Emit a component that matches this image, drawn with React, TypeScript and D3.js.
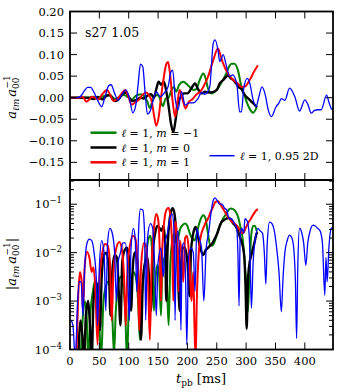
import React from "react";
import * as d3 from "d3";

// ---------- data: top panel a_lm / a_00 (t [ms], value) ----------
const greenTop: [number, number][] = [[0,0],[30,0],[40,0.002],[48,-0.002],[56,0.003],[64,0.006],[70,0.004],[77,-0.003],[84,0.002],[92,0.006],[98,0.002],[105,-0.004],[112,0.004],[120,0.008],[126,0.004],[132,-0.01],[136,-0.024],[140,-0.01],[145,0.005],[150,0.006],[155,-0.01],[158,-0.02],[163,-0.002],[168,0.0],[172,0.015],[177,0.025],[181,0.014],[186,0.03],[193,0.037],[200,0.03],[206,0.022],[210,0.018],[215,0.02],[221,0.041],[227,0.056],[231,0.045],[235,0.022],[241,0.01],[246,0.013],[250,0.018],[258,0.035],[266,0.056],[271,0.072],[275,0.079],[280,0.079],[286,0.064],[292,0.025],[298,0.002],[303,-0.017],[309,-0.032],[312,-0.035],[316,-0.028],[318,-0.022]];
const blackTop: [number, number][] = [[0,0],[30,0],[40,-0.003],[48,0.002],[55,-0.004],[62,0.004],[68,0.006],[73,-0.004],[78,-0.008],[85,0.0],[90,0.01],[95,0.012],[101,0.0],[106,-0.008],[113,-0.005],[120,0.0],[126,-0.002],[133,0.006],[138,0.008],[143,0.0],[147,0.02],[151,0.037],[155,0.03],[160,0.037],[164,0.015],[168,-0.02],[172,-0.06],[176,-0.08],[180,-0.05],[184,-0.01],[188,0.0],[194,0.01],[200,0.01],[206,0.02],[213,0.033],[218,0.02],[225,0.01],[230,0.014],[236,0.012],[243,0.013],[250,0.018],[255,0.033],[261,0.041],[265,0.047],[269,0.052],[274,0.045],[278,0.041],[283,0.033],[287,0.025],[292,0.02],[298,0.006],[303,-0.001],[309,-0.009],[315,-0.017],[319,-0.022]];
const redTop: [number, number][] = [[0,0],[15,0],[20,0.003],[24,-0.002],[28,-0.009],[33,-0.004],[37,0.002],[42,0.0],[48,-0.004],[55,0.008],[63,0.018],[68,0.008],[74,-0.007],[80,-0.004],[87,0.008],[94,0.018],[99,0.004],[105,-0.016],[112,-0.01],[118,-0.004],[122,0.004],[130,0.012],[135,0.004],[139,-0.007],[143,-0.04],[147,-0.065],[151,-0.045],[155,0.0],[159,0.04],[164,0.078],[167,0.083],[170,0.06],[175,-0.01],[179,-0.044],[183,-0.01],[187,0.018],[192,-0.005],[197,-0.025],[202,-0.01],[208,-0.004],[215,0.007],[222,0.014],[227,0.025],[235,0.048],[244,0.087],[252,0.114],[256,0.1],[261,0.079],[269,0.056],[278,0.041],[286,0.033],[292,0.025],[298,0.026],[306,0.041],[315,0.064],[320,0.075]];
const blueTop: [number, number][] = [[0,0],[12,0],[18,0.003],[24,0.015],[30,0.024],[35,0.024],[41,0.012],[47,-0.006],[54,-0.021],[60,0.004],[66,0.028],[70,0.03],[76,0.01],[82,-0.006],[88,0.006],[95,0.018],[101,0.0],[107,-0.035],[112,-0.018],[116,0.03],[120,0.078],[124,0.072],[128,0.01],[132,-0.038],[137,-0.03],[141,-0.009],[147,0.014],[154,0.002],[161,0.012],[167,0.025],[172,0.06],[175,0.064],[179,0.0],[184,-0.028],[190,0.014],[196,-0.017],[203,-0.012],[210,-0.012],[218,-0.002],[224,0.012],[230,0.008],[238,0.025],[244,0.126],[247,0.134],[252,0.111],[255,0.084],[261,0.1],[266,0.076],[272,0.049],[277,0.053],[284,0.033],[289,-0.033],[292,-0.033],[296,0.022],[302,0.045],[306,0.035],[312,-0.005],[317,-0.021],[321,-0.002],[327,0.025],[332,0.01],[338,-0.03],[343,-0.044],[351,-0.021],[356,-0.012],[360,-0.002],[366,-0.006],[374,0.022],[383,0.002],[391,-0.031],[400,-0.005],[405,-0.015],[411,-0.036],[416,-0.03],[422,-0.028],[428,-0.028],[437,0.006],[441,-0.01],[446,-0.027],[448,-0.028]];

// ---------- data: bottom panel log10 |a_lm / a_00| (t [ms], exponent) ----------
const greenAbsExp: [number, number][] = [[18,-4.2],[22,-3.3],[25,-3.0],[28,-3.2],[31,-4.2],[35,-3.2],[39,-2.8],[42,-2.6],[46,-2.8],[50,-3.5],[53,-4.2],[57,-3.0],[61,-2.7],[65,-2.6],[69,-2.8],[72,-3.3],[75,-4.1],[78,-3.2],[82,-2.7],[86,-2.5],[90,-2.65],[94,-3.2],[97,-4.2],[100,-3.2],[104,-2.6],[108,-2.4],[112,-2.5],[116,-3.0],[119,-3.8],[122,-3.0],[126,-2.4],[130,-2.0],[134,-1.7],[137,-1.65],[140,-2.0],[143,-3.2],[146,-2.5],[149,-2.25],[152,-2.5],[155,-3.3],[157,-2.4],[161,-2.1],[165,-2.6],[168,-3.5],[171,-2.2],[175,-1.7],[178,-1.6],[181,-1.8],[184,-1.7],[188,-1.5],[192,-1.43],[196,-1.4],[200,-1.45],[204,-1.6],[208,-1.7],[212,-1.75],[216,-1.6],[220,-1.4],[224,-1.27],[227,-1.23],[231,-1.3],[235,-1.6],[239,-1.85],[243,-1.85],[247,-1.75],[252,-1.55],[257,-1.4],[262,-1.27],[266,-1.2],[270,-1.12],[274,-1.09],[278,-1.1],[282,-1.15],[286,-1.25],[290,-1.45],[294,-1.7],[297,-2.1],[300,-2.6],[303,-3.22],[306,-2.3],[309,-1.6],[312,-1.45],[315,-1.45],[318,-1.55]];
const blackAbsExp: [number, number][] = [[14,-4.2],[18,-3.4],[21,-3.7],[24,-4.2],[27,-3.3],[31,-3.0],[34,-3.5],[37,-4.2],[40,-3.0],[44,-2.6],[48,-2.8],[51,-3.6],[54,-2.5],[58,-2.05],[62,-2.0],[66,-2.3],[69,-3.3],[72,-2.4],[76,-2.05],[80,-2.1],[83,-2.8],[86,-3.5],[89,-2.2],[93,-1.95],[97,-1.9],[101,-2.2],[104,-3.2],[107,-2.3],[110,-2.0],[114,-2.1],[118,-2.9],[121,-3.8],[124,-2.6],[128,-2.2],[132,-2.1],[135,-2.6],[138,-3.2],[141,-2.0],[145,-1.6],[149,-1.45],[153,-1.5],[156,-1.55],[159,-1.45],[162,-1.8],[164,-3.0],[166,-2.0],[169,-1.4],[172,-1.15],[175,-1.08],[178,-1.2],[181,-1.6],[184,-2.5],[187,-3.2],[189,-2.3],[192,-1.9],[196,-1.9],[200,-2.2],[204,-2.9],[206,-2.0],[210,-1.6],[214,-1.47],[217,-1.6],[220,-1.8],[223,-1.95],[227,-2.05],[231,-1.95],[235,-1.9],[239,-1.85],[243,-1.8],[247,-1.7],[251,-1.6],[255,-1.45],[258,-1.37],[262,-1.33],[266,-1.3],[270,-1.28],[274,-1.32],[278,-1.4],[282,-1.45],[286,-1.55],[290,-1.7],[294,-1.85],[297,-2.1],[299,-2.7],[301,-3.57],[303,-2.6],[306,-2.2],[309,-2.05],[312,-1.9],[315,-1.75],[318,-1.6],[320,-1.58]];
const redAbsExp: [number, number][] = [[11,-4.1],[14,-2.9],[17,-2.4],[20,-2.6],[22,-3.2],[25,-2.3],[29,-1.98],[33,-2.1],[37,-2.4],[40,-2.3],[43,-2.7],[47,-3.9],[50,-2.6],[55,-2.0],[60,-1.82],[64,-1.85],[68,-2.2],[71,-3.4],[74,-2.4],[79,-1.9],[84,-1.78],[88,-1.9],[92,-2.5],[95,-3.5],[98,-2.3],[103,-1.8],[107,-1.65],[111,-1.7],[115,-2.2],[118,-3.6],[121,-2.3],[126,-1.8],[130,-1.9],[133,-2.6],[136,-3.8],[139,-2.3],[143,-1.5],[147,-1.2],[150,-1.3],[153,-2.0],[155,-3.0],[157,-2.0],[161,-1.3],[165,-1.1],[168,-1.08],[171,-1.25],[174,-1.9],[176,-3.0],[178,-1.6],[180,-1.36],[183,-1.9],[185,-2.8],[187,-1.75],[190,-2.0],[193,-2.6],[196,-1.7],[199,-1.65],[202,-1.9],[205,-2.6],[207,-3.0],[210,-2.4],[212,-3.5],[214,-4.2],[216,-3.0],[220,-1.9],[224,-1.6],[227,-1.5],[231,-1.38],[235,-1.3],[240,-1.15],[244,-1.05],[248,-0.95],[252,-0.94],[256,-1.0],[261,-1.1],[266,-1.2],[270,-1.28],[275,-1.35],[280,-1.4],[285,-1.45],[290,-1.55],[295,-1.6],[299,-1.5],[303,-1.4],[308,-1.3],[313,-1.2],[317,-1.13],[320,-1.1]];
const blueAbsExp: [number, number][] = [[2,-3.4],[5,-3.5],[9,-4.2],[13,-3.0],[16,-2.6],[19,-2.6],[22,-3.3],[25,-2.3],[29,-1.8],[33,-1.72],[37,-1.75],[41,-2.0],[45,-2.6],[47,-3.5],[50,-2.3],[54,-1.75],[58,-2.0],[61,-3.2],[64,-1.8],[68,-1.5],[72,-1.6],[76,-2.0],[79,-3.0],[82,-2.2],[86,-2.0],[90,-1.8],[94,-1.8],[98,-2.3],[101,-3.4],[104,-1.9],[108,-1.5],[111,-1.7],[114,-2.8],[117,-1.5],[120,-1.1],[124,-1.12],[127,-1.6],[129,-3.4],[132,-1.7],[137,-1.4],[141,-1.5],[144,-2.2],[147,-3.3],[150,-2.2],[155,-1.9],[159,-2.5],[162,-1.8],[166,-1.6],[170,-1.3],[174,-1.2],[177,-1.5],[179,-3.4],[181,-1.8],[184,-1.55],[187,-2.3],[189,-3.6],[191,-1.9],[194,-1.8],[197,-2.6],[199,-3.9],[202,-2.1],[206,-1.9],[210,-2.0],[213,-2.8],[216,-1.5],[220,-1.7],[224,-1.9],[228,-3.0],[232,-1.9],[236,-1.6],[240,-1.2],[244,-0.92],[247,-0.87],[251,-0.93],[255,-1.0],[259,-1.0],[263,-1.08],[267,-1.12],[271,-1.3],[275,-1.3],[280,-1.4],[284,-1.5],[286,-2.0],[288,-3.1],[290,-1.6],[293,-1.5],[296,-1.6],[298,-1.3],[302,-1.35],[305,-1.6],[307,-2.2],[309,-3.15],[312,-2.2],[316,-1.7],[320,-1.5],[324,-1.55],[328,-1.6],[331,-2.0],[333.6,-2.65],[336,-1.8],[340,-1.37],[344,-1.4],[348,-1.55],[352,-1.9],[356,-2.4],[360,-3.22],[363,-2.5],[366,-2.0],[370,-1.75],[374,-1.64],[378,-1.7],[381,-1.9],[384,-2.6],[386,-3.77],[388,-2.3],[391,-1.5],[395,-1.6],[398,-1.8],[401.7,-2.26],[405,-1.8],[409,-1.55],[414,-1.43],[418,-1.45],[422,-1.5],[426,-1.55],[430,-1.8],[434,-2.88],[436,-2.1],[438,-2.6],[441,-1.9],[445,-1.5],[448,-1.48]];

const xTicks = [0, 50, 100, 150, 200, 250, 300, 350, 400];
const yTopTicks = [-0.15, -0.1, -0.05, 0, 0.05, 0.1, 0.15, 0.2];
const yBotDecades = [-4, -3, -2, -1];
const legendLabels = ["m = −1", "m = 0", "m = 1"];

const GREEN = "#008000", BLACK = "#000000", RED = "#ff0000", BLUE = "#0000ff";
const FONT = "DejaVu Serif";

export default function App() {
  const L = 70, R = 333, T = 11.5, M = 180, B = 349.5;
  const x = d3.scaleLinear().domain([0, 448]).range([L, R]);
  const yTop = d3.scaleLinear().domain([-0.191, 0.2]).range([M, T]);
  const yBot = d3.scaleLog().domain([1e-4, Math.pow(10, -0.5)]).range([B, M]);

  const lineTop = d3.line<[number, number]>().x(d => x(d[0])).y(d => yTop(d[1])).curve(d3.curveMonotoneX);
  const lineBot = d3.line<[number, number]>().x(d => x(d[0])).y(d => yBot(Math.pow(10, d[1]))).curve(d3.curveMonotoneX);

  const topSeries = [
    { d: greenTop, c: GREEN, w: 2 },
    { d: blackTop, c: BLACK, w: 2.4 },
    { d: redTop, c: RED, w: 2 },
    { d: blueTop, c: BLUE, w: 1.3 },
  ];
  const botSeries = [
    { d: greenAbsExp, c: GREEN, w: 2 },
    { d: blackAbsExp, c: BLACK, w: 2.4 },
    { d: redAbsExp, c: RED, w: 2 },
    { d: blueAbsExp, c: BLUE, w: 1.3 },
  ];

  const minor: number[] = [];
  for (let e = -4; e < 0; e++) for (let k = 2; k <= 9; k++) {
    const v = k * Math.pow(10, e);
    if (v <= Math.pow(10, -0.5)) minor.push(v);
  }

  const fmt = (v: number) => (v < 0 ? "−" : "") + Math.abs(v).toFixed(2);
  const MAJ = 7, MIN = 4;

  return (
    <svg width={339} height={392} style={{ position: "absolute", left: 0, top: 0, background: "#fff" }} fontFamily={FONT}>
      <defs>
        <clipPath id="cTop"><rect x={L} y={T} width={R - L} height={M - T} /></clipPath>
        <clipPath id="cBot"><rect x={L} y={M} width={R - L} height={B - M} /></clipPath>
      </defs>

      {/* data */}
      <g clipPath="url(#cTop)">
        {topSeries.map((s, i) => (
          <path key={i} d={lineTop(s.d) || ""} fill="none" stroke={s.c} strokeWidth={s.w} strokeLinejoin="round" />
        ))}
      </g>
      <g clipPath="url(#cBot)">
        {botSeries.map((s, i) => (
          <path key={i} d={lineBot(s.d) || ""} fill="none" stroke={s.c} strokeWidth={s.w} strokeLinejoin="round" />
        ))}
      </g>

      {/* ticks */}
      <g stroke="#000" strokeWidth={1}>
        {xTicks.map(t => (
          <g key={"xt" + t}>
            <line x1={x(t)} x2={x(t)} y1={T} y2={T + MAJ} />
            <line x1={x(t)} x2={x(t)} y1={M} y2={M - MAJ} />
            <line x1={x(t)} x2={x(t)} y1={M} y2={M + MAJ} />
            <line x1={x(t)} x2={x(t)} y1={B} y2={B - MAJ} />
          </g>
        ))}
        {yTopTicks.map(v => (
          <g key={"yt" + v}>
            <line x1={L} x2={L + MAJ} y1={yTop(v)} y2={yTop(v)} />
            <line x1={R} x2={R - MAJ} y1={yTop(v)} y2={yTop(v)} />
          </g>
        ))}
        {yBotDecades.map(e => (
          <g key={"yb" + e}>
            <line x1={L} x2={L + MAJ} y1={yBot(Math.pow(10, e))} y2={yBot(Math.pow(10, e))} />
            <line x1={R} x2={R - MAJ} y1={yBot(Math.pow(10, e))} y2={yBot(Math.pow(10, e))} />
          </g>
        ))}
        {minor.map((v, i) => (
          <g key={"mn" + i}>
            <line x1={L} x2={L + MIN} y1={yBot(v)} y2={yBot(v)} />
            <line x1={R} x2={R - MIN} y1={yBot(v)} y2={yBot(v)} />
          </g>
        ))}
      </g>

      {/* frames */}
      <rect x={L} y={T} width={R - L} height={M - T} fill="none" stroke="#000" strokeWidth={1.8} />
      <rect x={L} y={M} width={R - L} height={B - M} fill="none" stroke="#000" strokeWidth={1.8} />

      {/* tick labels */}
      <g fontSize={11.5} fill="#000">
        {yTopTicks.map(v => (
          <text key={"ytl" + v} x={L - 6} y={yTop(v) + 4} textAnchor="end">{fmt(v)}</text>
        ))}
        {yBotDecades.map(e => (
          <text key={"ybl" + e} x={L - 8} y={yBot(Math.pow(10, e)) + 4} textAnchor="end">
            10<tspan fontSize={8.5} dy={-5}>{"−" + Math.abs(e)}</tspan>
          </text>
        ))}
        {xTicks.map(t => (
          <text key={"xtl" + t} x={x(t)} y={365} textAnchor="middle">{t}</text>
        ))}
      </g>

      {/* axis labels */}
      <text transform="translate(16,97) rotate(-90)" textAnchor="middle" fontSize={13}>
        <tspan fontStyle="italic">a</tspan>
        <tspan fontSize={9} dy={3} fontStyle="italic">ℓm</tspan>
        <tspan dy={-3} fontStyle="italic" dx={2}>a</tspan>
        <tspan fontSize={9} dy={3}>00</tspan>
        <tspan fontSize={9} dy={-9} dx={-11}>−1</tspan>
      </text>
      <text transform="translate(16,264) rotate(-90)" textAnchor="middle" fontSize={13}>
        <tspan>|</tspan>
        <tspan fontStyle="italic">a</tspan>
        <tspan fontSize={9} dy={3} fontStyle="italic">ℓm</tspan>
        <tspan dy={-3} fontStyle="italic" dx={2}>a</tspan>
        <tspan fontSize={9} dy={3}>00</tspan>
        <tspan fontSize={9} dy={-9} dx={-11}>−1</tspan>
        <tspan dy={6}>|</tspan>
      </text>
      <text x={201} y={383} textAnchor="middle" fontSize={13}>
        <tspan fontStyle="italic">t</tspan>
        <tspan fontSize={9} dy={3}>pb</tspan>
        <tspan dy={-3}> [ms]</tspan>
      </text>

      {/* annotation */}
      <text x={85} y={37} fontSize={12.5}>s27 1.05</text>

      {/* legends */}
      {[GREEN, BLACK, RED].map((c, i) => (
        <g key={"lg" + i}>
          <line x1={90.5} x2={116.5} y1={132.7 + i * 14.8} y2={132.7 + i * 14.8} stroke={c} strokeWidth={2.5} />
          <text x={121.5} y={132.7 + i * 14.8 + 4} fontSize={11}>
            <tspan fontStyle="italic">ℓ</tspan> = 1, <tspan fontStyle="italic">m</tspan>{legendLabels[i].slice(1)}
          </text>
        </g>
      ))}
      <line x1={209.5} x2={234.5} y1={155.7} y2={155.7} stroke={BLUE} strokeWidth={1.5} />
      <text x={240} y={159.7} fontSize={11}>
        <tspan fontStyle="italic">ℓ</tspan> = 1, 0.95 2D
      </text>
    </svg>
  );
}
